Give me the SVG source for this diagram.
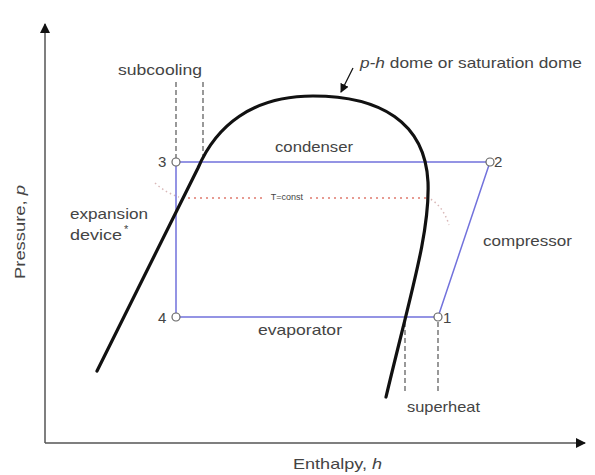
<svg xmlns="http://www.w3.org/2000/svg" width="595" height="475" viewBox="0 0 595 475">
<style>
text{font-family:"Liberation Sans",Arial,sans-serif;fill:#444;font-size:15px}
.cyc{stroke:#7272dc;stroke-width:1.5;fill:none}
.pt{fill:#fff;stroke:#666;stroke-width:1.2}
.dash{stroke:#555;stroke-width:1.2;stroke-dasharray:5 3;fill:none}
.axis{stroke:#555;stroke-width:1.5;fill:none}
</style>
<defs>
<marker id="ah" markerWidth="10" markerHeight="10" refX="9" refY="5" orient="auto" markerUnits="userSpaceOnUse">
<path d="M0,0 L10,5 L0,10 Z" fill="#111"/>
</marker>
<marker id="ah2" markerWidth="9" markerHeight="9" refX="8" refY="4.5" orient="auto" markerUnits="userSpaceOnUse">
<path d="M0,0 L9,4.5 L0,9 Z" fill="#111"/>
</marker>
</defs>
<g id="axes">
<line class="axis" x1="45" y1="443" x2="45" y2="24" marker-end="url(#ah)"/>
<line class="axis" x1="45" y1="443" x2="585" y2="443" marker-end="url(#ah)"/>
<text transform="translate(25,232) rotate(-90)" text-anchor="middle" textLength="94" lengthAdjust="spacingAndGlyphs">Pressure, <tspan font-style="italic">p</tspan></text>
<text x="293" y="469" textLength="89" lengthAdjust="spacingAndGlyphs">Enthalpy, <tspan font-style="italic">h</tspan></text>
</g>
<g id="tconst">
<path d="M155,183 Q166,193 179,197" stroke="#d9b8b8" stroke-width="1.5" stroke-dasharray="1.5 3" fill="none"/>
<path d="M427,197 Q443,205 449,225" stroke="#d9b8b8" stroke-width="1.5" stroke-dasharray="1.5 3" fill="none"/>
<line x1="182" y1="198" x2="264" y2="198" stroke="#e07a6e" stroke-width="1.3" stroke-dasharray="2 4"/>
<line x1="310" y1="198" x2="426" y2="198" stroke="#e07a6e" stroke-width="1.3" stroke-dasharray="2 4"/>
<text x="287" y="200" text-anchor="middle" style="font-size:9px" fill="#555">T=const</text>
</g>
<g id="dashes">
<line class="dash" x1="176" y1="82" x2="176" y2="158"/>
<line class="dash" x1="203" y1="82" x2="203" y2="158"/>
<line class="dash" x1="405" y1="322" x2="405" y2="392"/>
<line class="dash" x1="438" y1="322" x2="438" y2="392"/>
</g>
<g id="cycle">
<path class="cyc" d="M176,162 L490,162 L438,317 L176,317 Z"/>
</g>
<g id="dome">
<path d="M97,371 L198,168 C216,126 252,96 313,96 C380,96 425,122 428,182 C430,232 411,292 386,397" stroke="#111" stroke-width="3.2" fill="none" stroke-linecap="round"/>
<line x1="353" y1="68" x2="341" y2="92" stroke="#111" stroke-width="1.2" marker-end="url(#ah2)"/>
<text x="360" y="68" textLength="222" lengthAdjust="spacingAndGlyphs"><tspan font-style="italic">p-h</tspan> dome or saturation dome</text>
</g>
<g id="node3"><circle class="pt" cx="176" cy="162" r="4"/><text x="158" y="167">3</text></g>
<g id="node2"><circle class="pt" cx="490" cy="162" r="4"/><text x="494" y="167">2</text></g>
<g id="node1"><circle class="pt" cx="438" cy="317" r="4"/><text x="443" y="323">1</text></g>
<g id="node4"><circle class="pt" cx="176" cy="317" r="4"/><text x="158" y="323">4</text></g>
<g id="labels">
<text x="118" y="75" textLength="84" lengthAdjust="spacingAndGlyphs">subcooling</text>
<text x="275" y="152" textLength="78" lengthAdjust="spacingAndGlyphs">condenser</text>
<text x="70" y="219" textLength="78" lengthAdjust="spacingAndGlyphs">expansion</text>
<text x="70" y="240" textLength="52" lengthAdjust="spacingAndGlyphs">device</text>
<text x="124" y="233" style="font-size:11px">*</text>
<text x="483" y="246" textLength="89" lengthAdjust="spacingAndGlyphs">compressor</text>
<text x="258" y="335" textLength="84" lengthAdjust="spacingAndGlyphs">evaporator</text>
<text x="407" y="412" textLength="73" lengthAdjust="spacingAndGlyphs">superheat</text>
</g>
</svg>
